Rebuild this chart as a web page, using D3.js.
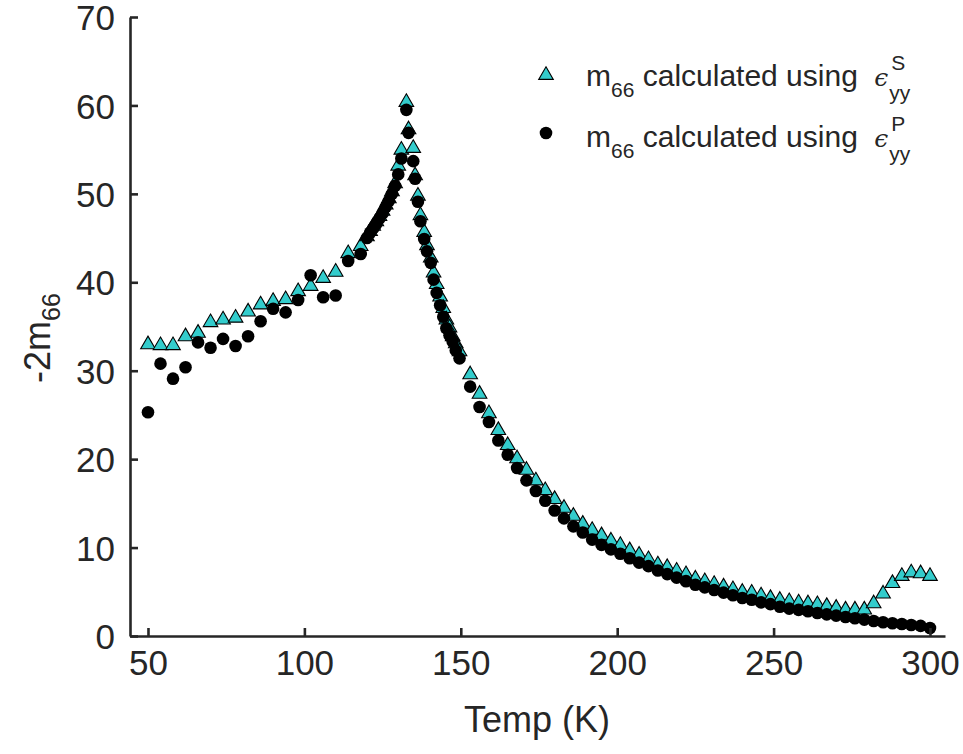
<!DOCTYPE html>
<html>
<head>
<meta charset="utf-8">
<script src="https://cdn.jsdelivr.net/npm/d3@7"></script>
<style>
  body { margin: 0; background: #fff; }
  svg text { font-family: "Liberation Sans", Arial, sans-serif; fill: #262626; }
</style>
</head>
<body>
<div id="chart"></div>
<script>
const width = 963;
const height = 754;

// temperature (K), shared by both series
const temp = [
  50, 54, 58, 62, 66, 70, 74, 78, 82, 86, 90, 94, 98, 102, 106, 110, 114, 118,
  120, 121, 122, 123, 124, 125, 126, 127, 128, 129, 130, 131,
  132.6, 133.3, 134.8, 135.4, 136.3, 137.1, 138.3, 139.2, 140.4, 141.3, 142.3, 143.4, 144.4, 145.4, 146.4, 147.4, 148.4, 149.6,
  153, 156, 159, 162, 165, 168, 171, 174, 177, 180, 183, 186, 189, 192,
  195, 198, 201, 204, 207, 210, 213, 216, 219, 222, 225, 228, 231, 234, 237, 240, 243, 246, 249,
  252, 255, 258, 261, 264, 267, 270, 273, 276, 279, 282, 285, 288, 291, 294, 297, 300
];

// -2m66 from strain eps_yy^S (triangles)
const m66_S = [
  33.1, 33.0, 33.0, 34.0, 34.4, 35.6, 35.9, 36.1, 36.8, 37.6, 38.0, 38.2, 39.1, 39.7, 40.6, 41.3, 43.4, 44.2,
  45.3, 45.9, 46.5, 47.0, 47.6, 48.2, 48.9, 49.6, 50.4, 51.3, 53.3, 55.1,
  60.5, 57.4, 55.3, 52.2, 49.9, 47.7, 45.8, 44.3, 42.9, 41.2, 39.9, 38.5, 37.2, 35.9, 35.0, 34.0, 33.2, 32.3,
  29.7, 27.5, 25.3, 23.4, 21.7, 20.2, 18.9, 17.7, 16.6, 15.6, 14.6, 13.7, 12.8, 12.1,
  11.5, 10.9, 10.4, 9.8, 9.3, 8.8, 8.2, 7.9, 7.5, 7.1, 6.6, 6.3, 6.0, 5.7, 5.4, 5.1, 5.0, 4.7, 4.4,
  4.2, 4.05, 3.9, 3.8, 3.7, 3.5, 3.3, 3.1, 3.1, 3.1, 3.8, 4.9, 6.1, 6.9, 7.3, 7.2, 6.9
];

// -2m66 from strain eps_yy^P (circles)
const m66_P = [
  25.3, 30.8, 29.1, 30.4, 33.2, 32.6, 33.6, 32.8, 33.9, 35.6, 37.0, 36.6, 38.0, 40.8, 38.3, 38.5, 42.4, 43.2,
  45.0, 45.6, 46.1, 46.6, 47.2, 47.8, 48.5, 49.2, 50.0, 50.9, 52.2, 54.0,
  59.5, 56.9, 53.7, 51.7, 49.1, 46.9, 44.9, 43.5, 42.2, 40.3, 38.8, 37.4, 36.1, 34.8, 34.0, 33.3, 32.3, 31.4,
  28.2, 25.9, 24.2, 22.1, 20.5, 19.0, 17.6, 16.4, 15.3, 14.2, 13.3, 12.4, 11.7, 10.9,
  10.3, 9.8, 9.3, 8.8, 8.3, 7.9, 7.4, 7.0, 6.6, 6.2, 5.8, 5.5, 5.2, 4.9, 4.6, 4.3, 4.1, 3.8, 3.6,
  3.3, 3.1, 2.95, 2.8, 2.6, 2.45, 2.3, 2.15, 2.0, 1.85, 1.7, 1.55, 1.45, 1.35, 1.25, 1.15, 0.9
];

const xTicks = [50, 100, 150, 200, 250, 300];
const yTicks = [0, 10, 20, 30, 40, 50, 60, 70];

const axisColor = "#262626";
const teal = "#33cccc";

var svg = d3.select("#chart")
  .append("svg")
  .attr("width", width)
  .attr("height", height);

let x = d3.scaleLinear().domain([44.25, 304.8]).range([130, 945]);
let y = d3.scaleLinear().domain([0, 70]).range([636, 17]);

// triangle marker (matlab '^')
const triPath = "M0,-7.2 L7.3,5.4 L-7.3,5.4 Z";

// series S first, circles drawn over it
svg.append("g")
  .selectAll("path")
  .data(temp.map((t, i) => [t, m66_S[i]]))
  .enter()
  .append("path")
  .attr("d", triPath)
  .attr("transform", d => "translate(" + x(d[0]) + "," + y(d[1]) + ")")
  .attr("fill", teal)
  .attr("stroke", "#000")
  .attr("stroke-width", 1.1);

svg.append("g")
  .selectAll("circle")
  .data(temp.map((t, i) => [t, m66_P[i]]))
  .enter()
  .append("circle")
  .attr("cx", d => x(d[0]))
  .attr("cy", d => y(d[1]))
  .attr("r", 6.3)
  .attr("fill", "#000");

// axes, matlab style (ticks inside, no box)
let xAxis = svg.append("g")
  .attr("transform", "translate(0," + y(0) + ")")
  .call(d3.axisBottom(x).tickValues(xTicks).tickSizeInner(-8).tickSizeOuter(0).tickPadding(14));
let yAxis = svg.append("g")
  .attr("transform", "translate(" + x.range()[0] + ",0)")
  .call(d3.axisLeft(y).tickValues(yTicks).tickSizeInner(-8).tickSizeOuter(0).tickPadding(15));

for (let ax of [xAxis, yAxis]) {
  ax.select(".domain").attr("stroke", axisColor).attr("stroke-width", 2.6);
  ax.selectAll(".tick line").attr("stroke", axisColor).attr("stroke-width", 2.6);
  ax.selectAll(".tick text")
    .style("font-family", '"Liberation Sans", Arial, sans-serif')
    .style("font-size", "35px")
    .attr("fill", axisColor);
}
xAxis.selectAll(".tick text").attr("dy", "0.71em");
yAxis.selectAll(".tick text").attr("dy", "0.36em");

// axis labels
svg.append("text")
  .attr("x", 537)
  .attr("y", 732)
  .attr("text-anchor", "middle")
  .style("font-size", "36px")
  .text("Temp (K)");

let yl = svg.append("text")
  .attr("transform", "translate(50,338) rotate(-90)")
  .attr("text-anchor", "middle")
  .style("font-size", "36px");
yl.append("tspan").text("-2m");
yl.append("tspan").attr("dy", 10).style("font-size", "25px").text("66");

// legend
const legendRows = [
  { sup: "S", y: 86, marker: "tri" },
  { sup: "P", y: 147, marker: "circle" }
];

for (let row of legendRows) {
  if (row.marker == "tri") {
    svg.append("path")
      .attr("d", triPath)
      .attr("transform", "translate(546," + (row.y - 12) + ")")
      .attr("fill", teal)
      .attr("stroke", "#000")
      .attr("stroke-width", 1.1);
  } else {
    svg.append("circle")
      .attr("cx", 546).attr("cy", row.y - 14)
      .attr("r", 6.3).attr("fill", "#000");
  }

  let t = svg.append("text")
    .attr("x", 586)
    .attr("y", row.y)
    .style("font-size", "30px");
  t.append("tspan").text("m");
  t.append("tspan").attr("dy", 11).style("font-size", "21px").text("66");
  t.append("tspan").attr("dy", -11).text(" calculated using ");
  t.append("tspan").attr("dx", 8).style("font-style", "italic").style("font-family", "DejaVu Serif, serif").style("font-size", "25px").text("\u03F5");

  let end = t.node().getBBox();
  let ex = end.x + end.width + 3;
  svg.append("text").attr("x", ex).attr("y", row.y - 16).style("font-size", "21px").text(row.sup);
  svg.append("text").attr("x", ex - 2).attr("y", row.y + 14).style("font-size", "21px").text("yy");
}
</script>
</body>
</html>
